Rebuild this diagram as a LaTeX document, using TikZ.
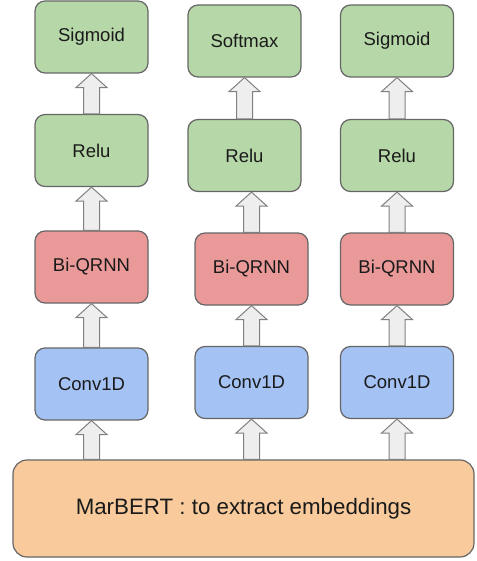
\documentclass[tikz,border=0pt]{standalone}
\usepackage{fontspec}
\setmainfont{Liberation Sans}
\usetikzlibrary{calc}
\definecolor{bgreen}{HTML}{B6D7A8}
\definecolor{bred}{HTML}{EA9999}
\definecolor{bblue}{HTML}{A4C2F4}
\definecolor{borange}{HTML}{F9CB9C}
\definecolor{bline}{HTML}{666666}
\definecolor{afill}{HTML}{EEEEEE}
\definecolor{aline}{HTML}{808080}
\definecolor{txt}{HTML}{1A1A1A}
\tikzset{
  layer/.style={draw=bline, line width=1.2pt, rounded corners=10pt, minimum width=113pt, minimum height=72pt, inner sep=0pt, text=txt, font=\fontsize{18.5}{22}\selectfont},
  greenbox/.style={layer, fill=bgreen},
  redbox/.style={layer, fill=bred},
  bluebox/.style={layer, fill=bblue},
  basebox/.style={draw=bline, line width=1.2pt, rounded corners=14pt, minimum width=461pt, minimum height=97pt, inner sep=0pt, fill=borange, text=txt, font=\fontsize{22.3}{26}\selectfont},
  barrow/.style={draw=aline, line width=1pt, fill=afill, line join=miter}
}
\newcommand\blockarrow[2]{%
  \draw[barrow] let \p1=(#1), \p2=(#2) in
    (\x1-8pt,\y1) -- (\x1-8pt,\y2-14pt) -- (\x1-15.5pt,\y2-14pt) -- (\x1,\y2)
    -- (\x1+15.5pt,\y2-14pt) -- (\x1+8pt,\y2-14pt) -- (\x1+8pt,\y1) -- cycle;}
\begin{document}
\begin{tikzpicture}[x=1pt,y=1pt]
\useasboundingbox (0,0) rectangle (476,-561);
% column 1
\node[greenbox] (s1) at (91.5,-37) {Sigmoid};
\node[greenbox] (r1) at (91.5,-150.5) {Relu};
\node[redbox]   (q1) at (91.5,-267) {Bi-QRNN};
\node[bluebox]  (c1) at (91.5,-384) {Conv1D};
% column 2
\node[greenbox] (s2) at (244.5,-41) {Softmax};
\node[greenbox] (r2) at (244.5,-155.5) {Relu};
\node[redbox]   (q2) at (251.5,-269) {Bi-QRNN};
\node[bluebox]  (c2) at (251.5,-382.5) {Conv1D};
% column 3
\node[greenbox] (s3) at (397,-41) {Sigmoid};
\node[greenbox] (r3) at (397,-155.5) {Relu};
\node[redbox]   (q3) at (397,-269) {Bi-QRNN};
\node[bluebox]  (c3) at (397,-382.5) {Conv1D};
% base
\node[basebox] (mb) at (243.5,-508.5) {MarBERT : to extract embeddings};
% arrows
\coordinate (m1) at (c1.south |- mb.north);
\coordinate (m2) at (c2.south |- mb.north);
\coordinate (m3) at (c3.south |- mb.north);
\blockarrow{m1}{c1.south}
\blockarrow{c1.north}{q1.south}
\blockarrow{q1.north}{r1.south}
\blockarrow{r1.north}{s1.south}
\blockarrow{m2}{c2.south}
\blockarrow{c2.north}{q2.south}
\blockarrow{q2.north}{r2.south -| q2.north}
\blockarrow{r2.north}{s2.south}
\blockarrow{m3}{c3.south}
\blockarrow{c3.north}{q3.south}
\blockarrow{q3.north}{r3.south}
\blockarrow{r3.north}{s3.south}
\end{tikzpicture}
\end{document}
